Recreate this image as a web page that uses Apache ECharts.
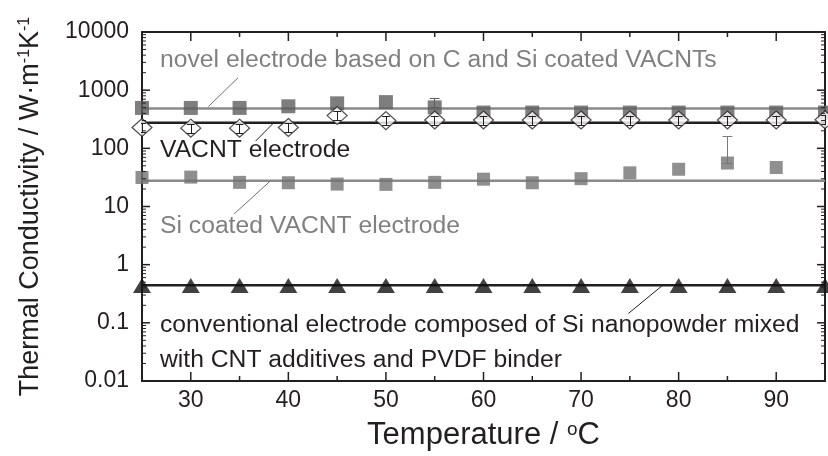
<!DOCTYPE html>
<html>
<head>
<meta charset="utf-8">
<script src="https://cdn.jsdelivr.net/npm/echarts@6/dist/echarts.min.js"></script>
<style>html,body{margin:0;padding:0;background:#fff}#c{width:828px;height:456px}#err{position:absolute;left:0;top:0;font:11px monospace;color:red;white-space:pre-wrap}</style>
</head>
<body>
<div id="c"></div>
<div id="err"></div>
<script>
window.onerror = function (m) { document.getElementById('err').textContent += m + '\n'; };
// ---- data ----
const temps = [25,30,35,40,45,50,55,60,65,70,75,80,85,90,95];
const novel = [495,495,495,528,594,623,506,412,412,412,412,412,412,412,412];
const vacnt = [228,222,222,228,366,300,307,307,307,307,307,307,307,307,310];
const vacntErr = [40,40,40,40,60,55,55,55,55,55,55,55,55,55,55];
const siTemps = [25,30,35,40,45,50,55,60,65,70,75,80,85,90];
const siCoated = [31.5,32,26,25.6,24.3,24,26,29.5,25.6,30.1,37.9,43.7,55.9,46.8];
const conventional = [0.44,0.44,0.44,0.44,0.44,0.44,0.44,0.44,0.44,0.44,0.44,0.44,0.44,0.44,0.44];
// fitted (average) lines
const fitX = [25,95];
const novelFit = [483,483];
const vacntFit = [275,275];
const siFit = [27.6,27.6];
const convFit = [0.443,0.443];
// single large error bars [x, low, high]
const novelBigErr = [[55,506,716]];
const siBigErr = [[85,55.9,163]];
// annotation leader lines (data space)
const novelLeader = [[31.8,522],[34.85,1637]];
const vacntLeader = [[36.64,133],[38.5,275]];
const siLeader = [[34.44,7.45],[38.17,27.6]];
const convLeader = [[74.85,0.145],[78.37,0.443]];
// tick positions
const xMajor = [30,40,50,60,70,80,90];
const xMinor = [35,45,55,65,75,85];
const yMajor = [0.1,1,10,100,1000];
const yMinor = [];
[0.01,0.1,1,10,100,1000].forEach(d => { for (let k = 2; k <= 9; k++) yMinor.push(+(d*k).toPrecision(3)); });

const X_MIN = 25, X_MAX = 95, Y_MIN = 0.01, Y_MAX = 10000;
const BLACK = '#231f20';
const GRAY = '#808080';
const FONT = '"Liberation Sans", Arial, sans-serif';

const pair = (xs, ys) => xs.map((x, i) => [x, ys[i]]);

function errSegments(rows, capHalf) {
  const out = [];
  rows.forEach(([x, lo, hi]) => {
    out.push({ coords: [[x, lo], [x, hi]] });
    out.push({ coords: [[x - capHalf, lo], [x + capHalf, lo]] });
    out.push({ coords: [[x - capHalf, hi], [x + capHalf, hi]] });
  });
  return out;
}
const vacntErrRows = temps.map((t, i) => [t, vacnt[i] - vacntErr[i], vacnt[i] + vacntErr[i]]);

// inward tick marks on all four frame sides, placed through the axes' scales
function xTickItem(params, api) {
  const v = api.value(0), len = api.value(1);
  const b = api.coord([v, Y_MIN]), t = api.coord([v, Y_MAX]);
  const st = { stroke: BLACK, lineWidth: 1.5, fill: null };
  return { type: 'group', children: [
    { type: 'line', shape: { x1: b[0], y1: b[1], x2: b[0], y2: b[1] - len }, style: st },
    { type: 'line', shape: { x1: t[0], y1: t[1], x2: t[0], y2: t[1] + len }, style: st }
  ]};
}
function yTickItem(params, api) {
  const v = api.value(1), len = api.value(0);
  const l = api.coord([X_MIN, v]), r = api.coord([X_MAX, v]);
  const st = { stroke: BLACK, lineWidth: len > 5 ? 1.5 : 1, fill: null };
  return { type: 'group', children: [
    { type: 'line', shape: { x1: l[0], y1: l[1], x2: l[0] + len, y2: l[1] }, style: st },
    { type: 'line', shape: { x1: r[0], y1: r[1], x2: r[0] - len, y2: r[1] }, style: st }
  ]};
}

const axisLine = { show: true, onZero: false, lineStyle: { color: BLACK, width: 2 } };
const xBase = { type: 'value', min: X_MIN, max: X_MAX, interval: 5, splitLine: { show: false } };
const yBase = { type: 'log', logBase: 10, min: Y_MIN, max: Y_MAX, splitLine: { show: false } };

const option = {
  animation: false,
  grid: { left: 142, right: 1, top: 32, bottom: 73 },
  xAxis: [
    Object.assign({}, xBase, { position: 'bottom', axisLine,
      axisTick: { show: false },
      axisLabel: { fontFamily: FONT, fontSize: 23, color: BLACK, margin: 8,
        formatter: v => (v % 10 === 0 ? String(v) : '') },
      name: 'Temperature / {sup|o}C', nameLocation: 'middle', nameGap: 39,
      nameTextStyle: { fontFamily: FONT, fontSize: 31, color: BLACK,
        rich: { sup: { fontFamily: FONT, fontSize: 19, color: BLACK, verticalAlign: 'top' } } } }),
    Object.assign({}, xBase, { position: 'top', axisLine, axisTick: { show: false }, axisLabel: { show: false } })
  ],
  yAxis: [
    Object.assign({}, yBase, { position: 'left', axisLine,
      axisTick: { show: false },
      axisLabel: { fontFamily: FONT, fontSize: 23, color: BLACK, margin: 13,
        formatter: v => String(+(+v).toPrecision(6)) },
      name: 'Thermal Conductivity / W·m{sup|-1}K{sup|-1}', nameLocation: 'middle', nameGap: 98, nameRotate: 90,
      nameTextStyle: { fontFamily: FONT, fontSize: 27, color: BLACK,
        rich: { sup: { fontFamily: FONT, fontSize: 16, color: BLACK, verticalAlign: 'top' } } } }),
    Object.assign({}, yBase, { position: 'right', axisLine, axisTick: { show: false }, axisLabel: { show: false } })
  ],
  series: [
    { type: 'line', data: pair(fitX, novelFit), symbol: 'none', lineStyle: { color: '#8a8a8a', width: 2.5 }, z: 1 },
    { type: 'line', data: pair(fitX, siFit), symbol: 'none', lineStyle: { color: '#8a8a8a', width: 2.5 }, z: 1 },
    { type: 'line', data: pair(fitX, vacntFit), symbol: 'none', lineStyle: { color: BLACK, width: 2.5 }, z: 1 },
    { type: 'line', data: pair(fitX, convFit), symbol: 'none', lineStyle: { color: BLACK, width: 2.5 }, z: 1 },
    { type: 'line', data: novelLeader, symbol: 'none', lineStyle: { color: '#707070', width: 1 }, z: 1 },
    { type: 'line', data: vacntLeader, symbol: 'none', lineStyle: { color: BLACK, width: 1 }, z: 1 },
    { type: 'line', data: siLeader, symbol: 'none', lineStyle: { color: '#707070', width: 1 }, z: 1 },
    { type: 'line', data: convLeader, symbol: 'none', lineStyle: { color: BLACK, width: 1 }, z: 1 },
    { type: 'lines', coordinateSystem: 'cartesian2d', data: errSegments(novelBigErr, 0.5),
      lineStyle: { color: '#5e5e5e', width: 1, opacity: 1 }, z: 2 },
    { type: 'lines', coordinateSystem: 'cartesian2d', data: errSegments(siBigErr, 0.5),
      lineStyle: { color: '#7a7a7a', width: 1, opacity: 1 }, z: 2 },
    { type: 'scatter', data: pair(temps, novel), symbol: 'rect', symbolSize: 14,
      itemStyle: { color: '#5e5e5e' }, z: 3 },
    { type: 'scatter', data: pair(siTemps, siCoated), symbol: 'rect', symbolSize: 13,
      itemStyle: { color: '#737373' }, z: 3 },
    { type: 'scatter', data: pair(temps, vacnt), symbol: 'diamond', symbolSize: [20, 18],
      itemStyle: { color: '#ffffff', borderColor: BLACK, borderWidth: 1.2 }, z: 4 },
    { type: 'lines', coordinateSystem: 'cartesian2d', data: errSegments(vacntErrRows, 0.4),
      lineStyle: { color: BLACK, width: 1, opacity: 1 }, z: 5 },
    { type: 'scatter', data: pair(temps, conventional), symbol: 'triangle', symbolSize: [18, 15],
      itemStyle: { color: '#111' }, z: 3 },
    { type: 'custom', data: xMajor.map(v => [v, 9]).concat(xMinor.map(v => [v, 5])),
      renderItem: xTickItem, z: 20, silent: true, clip: false },
    { type: 'custom', data: yMajor.map(v => [8, v]).concat(yMinor.map(v => [4, v])),
      renderItem: yTickItem, z: 20, silent: true, clip: false }
  ],
  graphic: [
    { type: 'text', z: 10, style: { text: 'novel electrode based on C and Si coated VACNTs', x: 160, y: 60,
      fill: GRAY, fontFamily: FONT, fontSize: 24.7, verticalAlign: 'middle' } },
    { type: 'text', z: 10, style: { text: 'VACNT electrode', x: 160, y: 150,
      fill: BLACK, fontFamily: FONT, fontSize: 24.7, verticalAlign: 'middle' } },
    { type: 'text', z: 10, style: { text: 'Si coated VACNT electrode', x: 160, y: 226,
      fill: GRAY, fontFamily: FONT, fontSize: 24.7, verticalAlign: 'middle' } },
    { type: 'text', z: 10, style: { text: 'conventional electrode composed of Si nanopowder mixed\nwith CNT additives and PVDF binder',
      x: 160, y: 308, lineHeight: 35,
      fill: BLACK, fontFamily: FONT, fontSize: 24.7, verticalAlign: 'top' } }
  ]
};

echarts.init(document.getElementById('c')).setOption(option);
</script>
</body>
</html>
